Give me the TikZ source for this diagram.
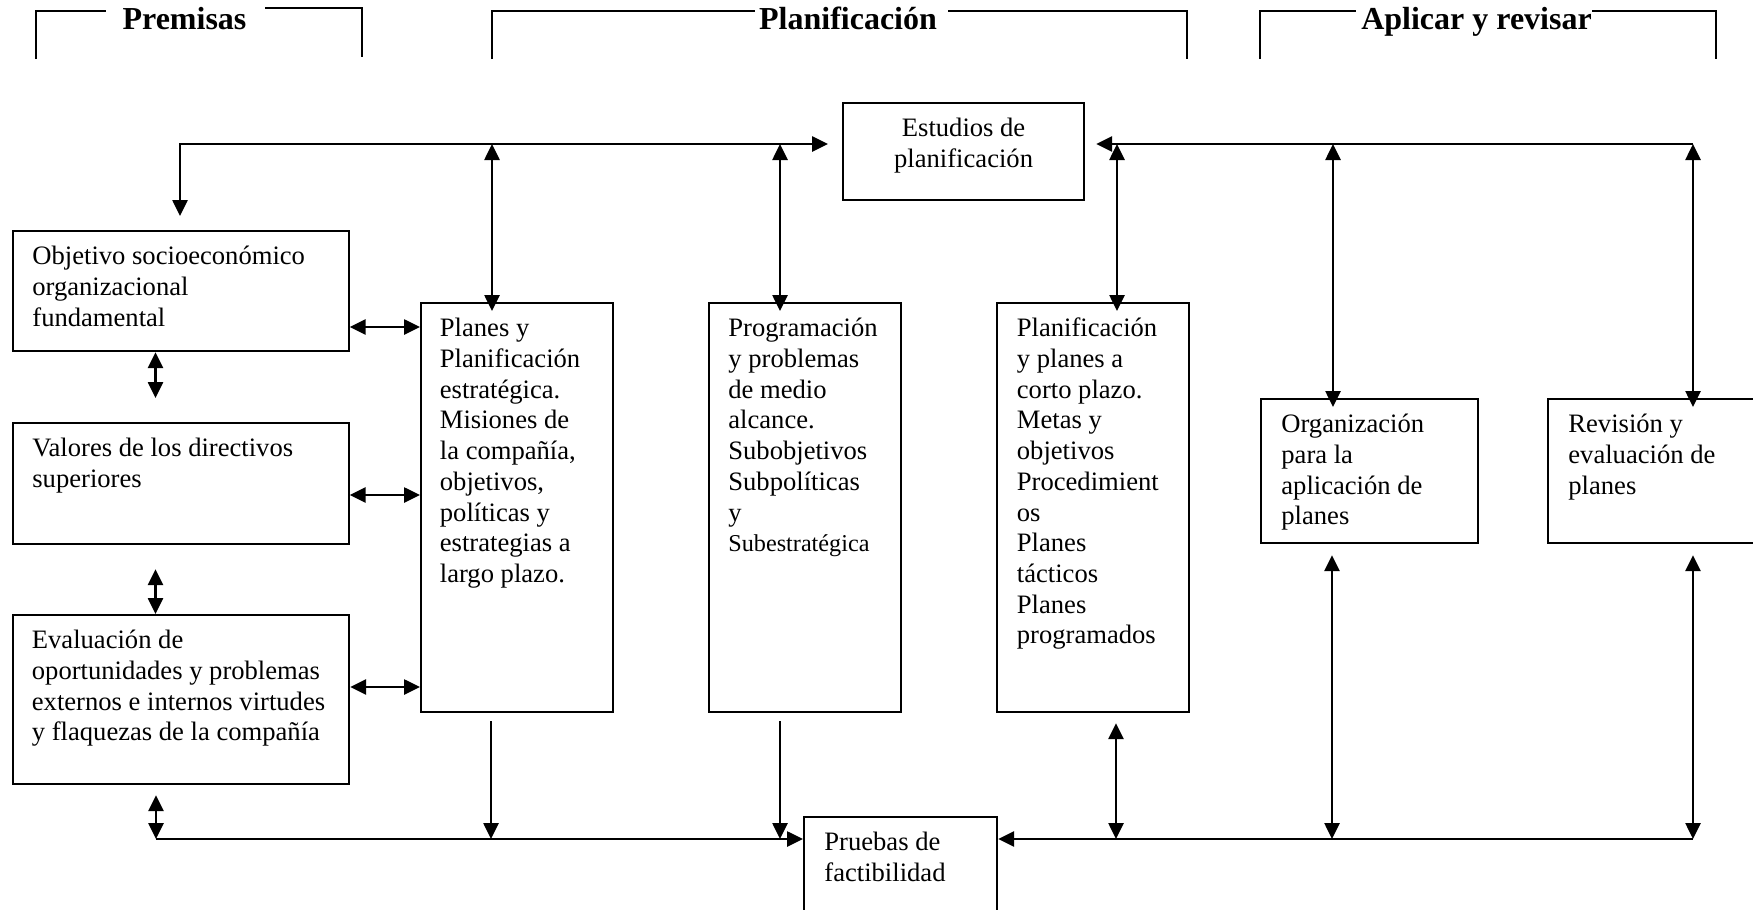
\documentclass[tikz,border=0pt]{standalone}
\usepackage{fontspec}
\setmainfont{Liberation Serif}
\usetikzlibrary{arrows.meta}
\newcommand{\bodyfont}{\fontsize{13.3}{15.35}\selectfont}
\newcommand{\smallbody}{\fontsize{12.1}{15.35}\selectfont}
\newcommand{\headfont}{\bfseries\fontsize{16}{19}\selectfont}
\begin{document}
\begin{tikzpicture}[x=0.5pt,y=-0.5pt,
  box/.style={draw, line width=1.1pt, inner sep=0pt, anchor=north west},
  lbl/.style={anchor=north west, inner sep=0pt, align=left, font=\bodyfont},
  head/.style={anchor=base, inner sep=0pt, font=\headfont},
  brk/.style={line width=0.9pt},
  conn/.style={line width=1.3pt},
  tip/.style={-{Triangle[length=8pt,width=7.5pt]}},
  dbl/.style={{Triangle[length=8pt,width=7.5pt]}-{Triangle[length=8pt,width=7.5pt]}}
]
\useasboundingbox (0,0) rectangle (1753,910);

% header brackets
\node[head] (hpre) at (184.5,30) {Premisas};
\node[head] (hpla) at (848,30) {Planificación};
\node[head] (hapl) at (1476.5,30) {Aplicar y revisar};
\draw[brk] (36,59) -- (36,11) -- (106,11);
\draw[brk] (265,8) -- (362,8) -- (362,57);
\draw[brk] (492,59) -- (492,11) -- (755,11);
\draw[brk] (948,11) -- (1187,11) -- (1187,59);
\draw[brk] (1260,59) -- (1260,11) -- (1356,11);
\draw[brk] (1592,11) -- (1716,11) -- (1716,59);

% boxes
\node[box, minimum width=120.5pt, minimum height=48.5pt] (est) at (842,102) {};
\node[box, minimum width=168pt, minimum height=60pt] (obj) at (11.5,230) {};
\node[box, minimum width=168pt, minimum height=60.5pt] (val) at (11.5,422) {};
\node[box, minimum width=168.25pt, minimum height=84.5pt] (eva) at (11.5,614) {};
\node[box, minimum width=96pt, minimum height=204.5pt] (pla) at (420,302) {};
\node[box, minimum width=96pt, minimum height=204.5pt] (pro) at (708,302) {};
\node[box, minimum width=96pt, minimum height=204.5pt] (cor) at (996,302) {};
\node[box, minimum width=108.5pt, minimum height=72pt] (org) at (1260,398) {};
\node[box, minimum width=130pt, minimum height=72pt] (rev) at (1547,398) {};
\node[box, minimum width=96.5pt, minimum height=60pt] (pru) at (803,816) {};

% labels
\node[lbl, anchor=north, align=center] at ([shift={(0,13)}]est.north) {\strut Estudios de\\planificación};
\node[lbl] at ([shift={(20.5,13)}]obj.north west) {\strut Objetivo socioeconómico\\organizacional\\fundamental};
\node[lbl] at ([shift={(20.5,13)}]val.north west) {\strut Valores de los directivos\\superiores};
\node[lbl] at ([shift={(20,13)}]eva.north west) {\strut Evaluación de\\oportunidades y problemas\\externos e internos virtudes\\y flaquezas de la compañía};
\node[lbl] at ([shift={(19.5,13)}]pla.north west) {\strut Planes y\\Planificación\\estratégica.\\Misiones de\\la compañía,\\objetivos,\\políticas y\\estrategias a\\largo plazo.};
\node[lbl] at ([shift={(20,13)}]pro.north west) {\strut Programación\\y problemas\\de medio\\alcance.\\Subobjetivos\\Subpolíticas\\y\\{\smallbody Subestratégica}};
\node[lbl] at ([shift={(20.5,13)}]cor.north west) {\strut Planificación\\y planes a\\corto plazo.\\Metas y\\objetivos\\Procedimient\\os\\Planes\\tácticos\\Planes\\programados};
\node[lbl] at ([shift={(21,13)}]org.north west) {\strut Organización\\para la\\aplicación de\\planes};
\node[lbl] at ([shift={(21,13)}]rev.north west) {\strut Revisión y\\evaluación de\\planes};
\node[lbl] at ([shift={(21,13)}]pru.north west) {\strut Pruebas de\\factibilidad};

% bus coordinates
\coordinate (tl) at (180,144);
\coordinate (tr) at (1693,144);
\coordinate (t1) at (492,144);
\coordinate (t2) at (780,144);
\coordinate (t3) at (1117,144);
\coordinate (t4) at (1333,144);
\coordinate (lc) at (155.5,0);
\coordinate (bl) at (156,839);
\coordinate (br) at (1693,839);
\coordinate (b1) at (491,839);
\coordinate (b2) at (780,839);
\coordinate (b3) at (1116,839);
\coordinate (b4) at (1332,839);
\coordinate (h1) at (0,327);
\coordinate (h2) at (0,495);
\coordinate (h3) at (0,687);

% top bus
\draw[conn, dbl, shorten <=7pt, shorten >=7pt] (tl -| est.west) -- (tl) -- (tl |- obj.north);
\draw[conn, tip, shorten >=5.5pt] (tr) -- (tr -| est.east);
\draw[conn, dbl, shorten >=-4.5pt] (t1) -- (t1 |- pla.north);
\draw[conn, dbl, shorten >=-4.5pt] (t2) -- (t2 |- pro.north);
\draw[conn, dbl, shorten >=-4.5pt] (t3) -- (t3 |- cor.north);
\draw[conn, dbl, shorten >=-4.5pt] (t4) -- (t4 |- org.north);
\draw[conn, dbl, shorten >=-4.5pt] (tr) -- (tr |- rev.north);

% left column
\draw[conn, dbl, shorten >=12pt] (obj.south -| lc) -- (val.north -| lc);
\draw[conn, dbl, shorten <=12pt] (val.south -| lc) -- (eva.north -| lc);
\draw[conn, dbl, shorten <=5pt] (eva.south -| bl) -- (bl);

% horizontal links to strategic plans
\draw[conn, dbl] (obj.east |- h1) -- (pla.west |- h1);
\draw[conn, dbl] (val.east |- h2) -- (pla.west |- h2);
\draw[conn, dbl] (eva.east |- h3) -- (pla.west |- h3);

% bottom bus
\draw[conn, tip] (bl) -- (bl -| pru.west);
\draw[conn, tip] (br) -- (br -| pru.east);
\draw[conn, tip, shorten <=4pt] (pla.south -| b1) -- (b1);
\draw[conn, tip, shorten <=4pt] (pro.south -| b2) -- (b2);
\draw[conn, dbl, shorten <=5pt] (cor.south -| b3) -- (b3);
\draw[conn, dbl, shorten <=5.5pt] (org.south -| b4) -- (b4);
\draw[conn, dbl, shorten <=5.5pt] (rev.south -| br) -- (br);
\end{tikzpicture}
\end{document}
